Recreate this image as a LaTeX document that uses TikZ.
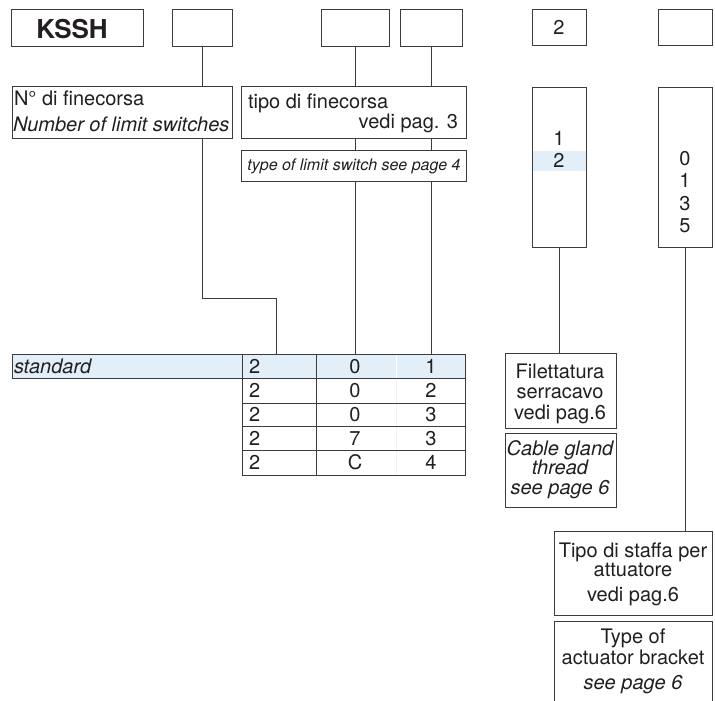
\documentclass[tikz,border=0pt]{standalone}
\usepackage{fontspec}
\setmainfont{TeX Gyre Heros}
\usetikzlibrary{fit}
\definecolor{linec}{RGB}{60,60,60}
\definecolor{txtc}{RGB}{35,31,32}
\definecolor{hl}{RGB}{226,238,248}
\begin{document}
\begin{tikzpicture}[x=1bp,y=-1bp,
  ln/.style={draw=linec, line width=0.9bp},
  box/.style={ln, inner sep=0pt, outer sep=0pt},
  tx/.style={inner sep=0pt, outer sep=0pt, text=txtc, font=\fontsize{20bp}{24bp}\selectfont},
  txi/.style={tx, font=\fontsize{20bp}{24bp}\selectfont\itshape},
  sm/.style={inner sep=0pt, outer sep=0pt, text=txtc, font=\fontsize{16bp}{19bp}\selectfont\itshape},
]
\useasboundingbox[fill=white] (0,0) rectangle (715,701);
\clip (0,0) rectangle (715,701);

% top code boxes
\node[box, fit={(11,9) (143,46)}] (kssh) {};
\node[tx, anchor=base, font=\fontsize{26bp}{30bp}\selectfont\bfseries] (ksshT) at (72,39) {KSSH};
\node[box, fit={(172,9) (232,46)}] (b2) {};
\node[box, fit={(321,9) (389,46)}] (b3) {};
\node[box, fit={(400,9) (462,46)}] (b4) {};
\node[box, fit={(532,9) (586,45)}] (b5) {};
\node[tx, anchor=base] (b5T) at (559,35) {2};
\node[box, fit={(658,9) (712,45)}] (b6) {};

% description boxes
\node[box, fit={(12,86) (232,138)}] (nf) {};
\node[tx, anchor=base west] (nfA) at (14,106) {N° di finecorsa};
\node[txi, anchor=base west] (nfB) at (13,132) {Number of limit switches};

\node[box, fit={(241,86) (466,138)}] (tf) {};
\node[tx, anchor=base west] (tfA) at (248,109) {tipo di finecorsa};
\node[tx, anchor=base east] (tfB) at (458,129) {vedi pag. 3};

\node[box, fit={(241,150) (466,181)}] (tl) {};
\node[sm, anchor=base] (tlT) at (354,170) {type of limit switch see page 4};

% tall boxes
\node[box, fit={(532,87) (586,247)}] (c5) {};
\fill[hl] (532.5,151) rectangle (585.5,171);
\node[tx, anchor=base] (c5a) at (559,145) {1};
\node[tx, anchor=base] (c5b) at (559,167) {2};

\node[box, fit={(658,87) (712,247)}] (c6) {};
\node[tx, anchor=base] (c6a) at (685,165) {0};
\node[tx, anchor=base] (c6b) at (685,187) {1};
\node[tx, anchor=base] (c6c) at (685,210) {3};
\node[tx, anchor=base] (c6d) at (685,232) {5};

% table
\fill[hl] (12,354) rectangle (465,378);
\draw[white, line width=0.8bp] (396,354) -- (396,378);
\draw[black!5, line width=0.8bp] (396,378) -- (396,475);
\draw[ln] (12,354) rectangle (465,378);
\draw[ln] (242,354) -- (242,475) -- (465,475) -- (465,378);
\draw[ln] (316,354) -- (316,475);
\foreach \yy in {403,426,450} \draw[ln] (242,\yy) -- (465,\yy);
\node[inner sep=0pt, outer sep=0pt, fit={(12,354) (465,475)}] (tbl) {};

\node[txi, anchor=base west] (std) at (14,373) {standard};
\foreach \r/\yy/\a/\b/\c in {1/373/2/0/1, 2/397/2/0/2, 3/421/2/0/3, 4/445/2/7/3, 5/469/2/C/4}{
  \node[tx, anchor=base west] (r\r a) at (249,\yy) {\a};
  \node[tx, anchor=base] (r\r b) at (355,\yy) {\b};
  \node[tx, anchor=base] (r\r c) at (431,\yy) {\c};
}

% right-side description boxes
\node[box, fit={(505,353) (616,428)}] (fi) {};
\node[tx, anchor=base] (fiA) at (560,378) {Filettatura};
\node[tx, anchor=base] (fiB) at (560,398) {serracavo};
\node[tx, anchor=base] (fiC) at (560,419) {vedi pag.6};

\node[box, fit={(505,433) (616,507)}] (cg) {};
\node[txi, anchor=base] (cgA) at (560,455) {Cable gland};
\node[txi, anchor=base] (cgB) at (560,474) {thread};
\node[txi, anchor=base] (cgC) at (560,494) {see page 6};

\node[box, fit={(554,531) (712,615)}] (ts) {};
\node[tx, anchor=base] (tsA) at (633,557) {Tipo di staffa per};
\node[tx, anchor=base] (tsB) at (633,576) {attuatore};
\node[tx, anchor=base] (tsC) at (633,601) {vedi pag.6};

\node[box, fit={(554,621) (712,720)}] (ta) {};
\node[tx, anchor=base] (taA) at (633,643) {Type of};
\node[tx, anchor=base] (taB) at (633,664) {actuator bracket};
\node[txi, anchor=base] (taC) at (633,689) {see page 6};

% connectors
\coordinate (k1) at (202,298);
\coordinate (k2) at (276,298);
\draw[ln] (b2.south) -- (b2.south |- nf.north);
\draw[ln] (b2.south |- nf.south) -- (k1) -- (k2) -- (k2 |- tbl.north);

\draw[ln] (b3.south) -- (b3.south |- tf.north);
\draw[ln] (b3.south |- tf.south) -- (b3.south |- tl.north);
\draw[ln] (b3.south |- tl.south) -- (b3.south |- tbl.north);

\draw[ln] (b4.south) -- (b4.south |- tf.north);
\draw[ln] (b4.south |- tf.south) -- (b4.south |- tl.north);
\draw[ln] (b4.south |- tl.south) -- (b4.south |- tbl.north);

\draw[ln] (c5.south) -- (c5.south |- fi.north);
\draw[ln] (c6.south) -- (c6.south |- ts.north);
\end{tikzpicture}
\end{document}
